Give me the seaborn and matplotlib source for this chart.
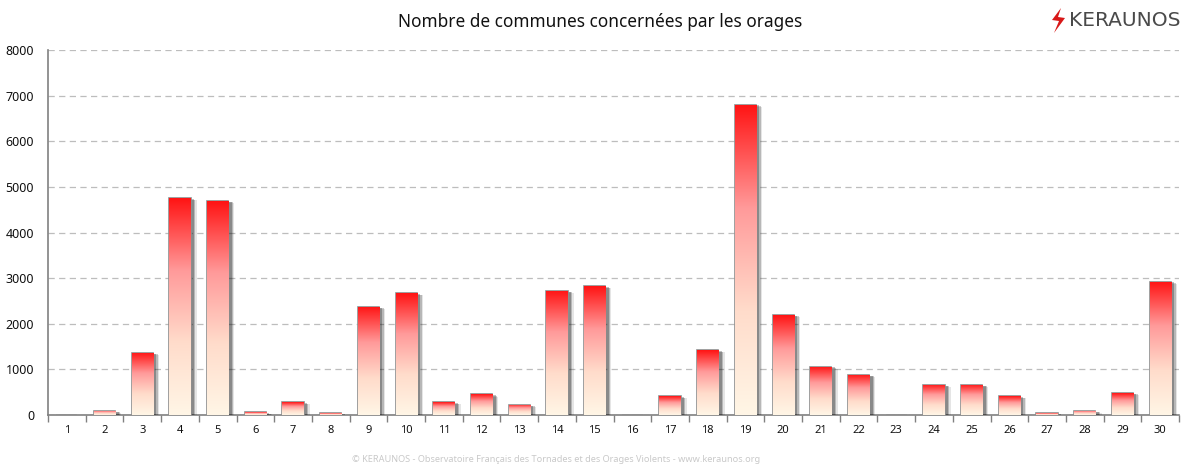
"""
Nombre de communes concernees par les orages, bars with a vertical gradient
"""
import matplotlib
matplotlib.use("Agg")
import matplotlib.pyplot as plt
import matplotlib.patheffects as pe
from matplotlib.colors import LinearSegmentedColormap
from matplotlib.patches import Polygon
import numpy as np
import pandas as pd
import seaborn as sns

days = list(range(1, 31))
communes = [10, 90, 1360, 4750, 4690, 60, 280, 40, 2370, 2670,
            280, 450, 220, 2720, 2820, 5, 410, 1420, 6800, 2190,
            1060, 880, 5, 660, 660, 410, 40, 90, 480, 2920]
y_ticks = [0, 1000, 2000, 3000, 4000, 5000, 6000, 7000, 8000]

title = "Nombre de communes concernées par les orages"
credit = "© KERAUNOS - Observatoire Français des Tornades et des Orages Violents - www.keraunos.org"

sns.set_theme(style="white")
plt.rcParams['font.family'] = ['Noto Sans', 'DejaVu Sans']

df = pd.DataFrame({"day": days, "communes": communes})

fig = plt.figure(figsize=(11.99, 4.72), dpi=100)
ax = fig.add_axes([48 / 1199, 57 / 472, 1131 / 1199, 365 / 472])

sns.barplot(data=df, x="day", y="communes", ax=ax, width=0.56,
            color="#ffffff", edgecolor="#8f8f8f", linewidth=1.2, zorder=3)

# Red on top fading to cream at the bottom of each bar
cmap = LinearSegmentedColormap.from_list(
    "orage", ["#fff6e6", "#ffdccb", "#ff9a9a", "#ff1414"])
gradient = np.linspace(1, 0, 256).reshape(-1, 1)

for bar in ax.patches:
    x0, w, h = bar.get_x(), bar.get_width(), bar.get_height()
    bar.set_path_effects([
        pe.SimplePatchShadow(offset=(4.5, -1.5), shadow_rgbFace="#000000", alpha=0.10),
        pe.SimplePatchShadow(offset=(3.5, -1), shadow_rgbFace="#000000", alpha=0.20),
        pe.SimplePatchShadow(offset=(2.5, -0.5), shadow_rgbFace="#000000", alpha=0.25),
        pe.Normal(),
    ])
    img = ax.imshow(gradient, extent=(x0, x0 + w, 0, h), cmap=cmap, vmin=0, vmax=1,
                    aspect="auto", zorder=3.5, interpolation="bilinear")
    img.set_clip_path(bar)

ax.set_xlim(-0.5, 29.5)
ax.set_ylim(0, 8000)
ax.set_yticks(y_ticks)
ax.set_xlabel("")
ax.set_ylabel("")

ax.yaxis.grid(True, linestyle=(0, (5, 3.5)), color="#bdbdbd", linewidth=0.9, zorder=0)
ax.set_axisbelow(True)

# Ticks sit between the categories, labels stay centred
ax.set_xticks(np.arange(-0.5, 30, 1), minor=True)
ax.tick_params(axis="x", which="major", length=0, pad=7, labelsize=8, labelcolor="#111111")
ax.tick_params(axis="x", which="minor", length=5, width=1, color="#808080", bottom=True)
ax.tick_params(axis="y", which="major", length=0, pad=10, labelsize=9, labelcolor="#111111")

for side in ["top", "right"]:
    ax.spines[side].set_visible(False)
for side in ["left", "bottom"]:
    ax.spines[side].set_color("#808080")
    ax.spines[side].set_linewidth(1.2)

fig.text(600 / 1199, 1 - 22 / 472, title, ha="center", va="center", fontsize=12.4,
         color="#111111")
fig.text(556 / 1199, 1 - 459 / 472, credit, ha="center", va="center", fontsize=6.6,
         color="#c9c9c9")

# Logo
fig.text(1069 / 1199, 1 - 21 / 472, "KERAUNOS", ha="left", va="center", fontsize=14.5,
         color="#4a4a4a", family="DejaVu Sans")
bolt = [(1061, 8), (1052, 20), (1059, 21), (1054, 33), (1065, 18), (1058, 17)]
fig.add_artist(Polygon([(x / 1199, 1 - y / 472) for x, y in bolt], closed=True,
                       transform=fig.transFigure, facecolor="#d81818", edgecolor="none"))

fig.savefig("out.png", dpi=100)
